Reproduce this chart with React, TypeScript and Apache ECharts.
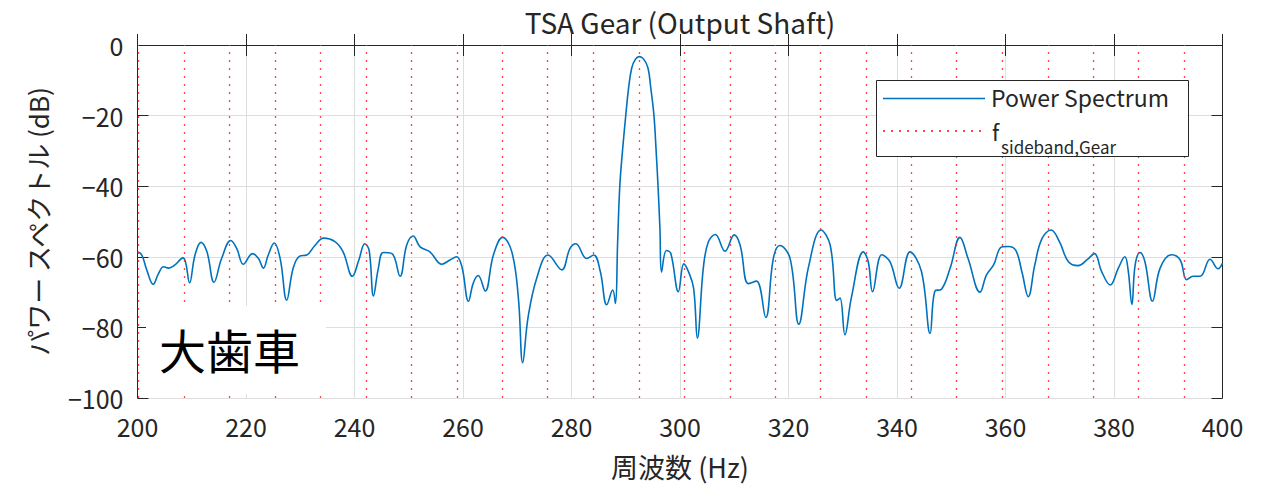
import React, { useEffect, useRef } from "react";
import * as echarts from "echarts";

const FONT = "'Noto Sans CJK JP', 'Noto Sans', sans-serif";

const freqHz = [
  200.0, 200.8, 201.7, 202.9, 203.8, 204.8, 205.7, 206.9, 208.4, 208.9, 209.6, 210.6, 211.7, 212.8, 214.1,
  215.5, 217.2, 218.3, 219.5, 221.2, 222.3, 223.2, 224.1, 225.2, 226.3, 227.5, 228.7, 229.9, 231.2, 232.7,
  234.3, 236.4, 237.9, 239.6, 240.8, 241.9, 242.7, 243.5, 244.4, 245.3, 246.9, 248.4, 249.6, 250.8, 252.1,
  253.9, 256.1, 257.6, 258.8, 259.8, 261.0, 261.9, 262.8, 264.1, 265.6, 267.3, 269.0, 270.2, 271.0, 272.0,
  273.6, 275.7, 278.2, 279.7, 280.8, 282.8, 284.1, 285.3, 286.5, 287.6, 288.1, 288.5, 288.9, 289.4, 290.0,
  290.5, 291.1, 291.8, 292.5, 293.3, 294.1, 294.6, 295.2, 295.6, 295.95, 296.3, 296.6, 297.5, 298.3, 299.7,
  300.7, 301.5, 302.5, 303.2, 304.3, 305.2, 306.5, 308.3, 310.0, 311.1, 312.6, 314.1, 315.8, 317.2, 318.4,
  320.3, 321.9, 323.7, 326.0, 327.7, 328.9, 329.5, 330.4, 331.6, 333.8, 334.7, 335.5, 337.2, 338.7, 340.4,
  342.4, 344.5, 346.1, 347.0, 348.2, 349.8, 351.6, 353.1, 355.3, 356.5, 357.8, 359.3, 360.5, 361.9, 363.0,
  364.2, 365.4, 366.7, 368.4, 370.0, 371.6, 373.4, 375.0, 376.4, 377.7, 379.3, 380.8, 382.0, 382.6, 383.3,
  383.9, 384.8, 385.7, 387.1, 388.5, 390.6, 392.2, 393.4, 394.6, 395.9, 397.7, 399.2, 400.0,
];

const powerDb = [
  -58.6, -59.5, -63.7, -67.8, -65.0, -62.8, -63.2, -62.3, -60.3, -61.8, -67.4, -59.5, -55.9, -58.6, -67.2,
  -60.5, -55.4, -57.7, -62.1, -59.1, -60.5, -63.2, -59.5, -56.1, -60.5, -72.3, -63.2, -59.8, -59.5, -56.8,
  -54.7, -55.7, -58.6, -65.5, -60.9, -56.3, -58.2, -71.1, -63.2, -58.8, -59.1, -65.5, -56.8, -54.1, -57.2,
  -58.6, -62.1, -60.9, -60.0, -62.8, -72.6, -67.4, -65.3, -69.7, -59.5, -54.5, -58.6, -71.5, -90.0, -77.1,
  -66.0, -59.5, -63.7, -57.7, -56.3, -60.5, -59.5, -64.1, -73.6, -69.4, -73.2, -56.0, -40.0, -30.0, -20.0,
  -12.5, -6.5, -4.0, -3.3, -4.0, -6.5, -12.0, -20.0, -30.0, -40.0, -52.0, -64.3, -58.2, -59.0, -69.9,
  -62.0, -64.0, -68.8, -83.0, -63.2, -55.9, -53.7, -58.4, -53.8, -56.8, -67.6, -66.9, -77.2, -60.5, -56.8,
  -60.5, -79.1, -62.8, -52.4, -56.8, -72.4, -71.7, -82.1, -71.5, -58.6, -61.4, -69.9, -59.4, -61.4, -68.9,
  -58.6, -64.1, -81.7, -69.7, -69.2, -63.2, -54.5, -60.5, -70.0, -65.1, -62.3, -57.2, -57.1, -58.2, -64.1,
  -71.3, -62.3, -54.9, -52.4, -55.9, -61.4, -62.5, -60.9, -59.1, -64.1, -68.0, -63.2, -60.0, -63.7, -73.5,
  -62.3, -58.8, -61.4, -72.6, -63.2, -59.4, -60.9, -66.5, -65.5, -65.5, -60.7, -63.4, -61.8,
];

const sidebandHz = [
  200.2, 208.6, 217.0, 225.4, 233.7, 242.1, 250.5, 258.9, 267.3, 275.6, 284.0, 292.4,
  300.8, 309.2, 317.5, 325.9, 334.3, 342.7, 351.0, 359.4, 367.8, 376.2, 384.5, 392.9,
];

const TEXT = "#262626";
const GRID = "#dedede";
const BLUE = "#0072BD";
const RED = "#ff3030";

export default function App() {
  const ref = useRef<HTMLDivElement>(null);
  useEffect(() => {
    document.body.style.margin = "0";
    const chart = echarts.init(ref.current!, null, { renderer: "svg" });
    const axisLine = { show: true, lineStyle: { color: TEXT, width: 1 } };
    const tick = { show: true, inside: true, length: 11, lineStyle: { color: TEXT, width: 1 } };
    const option: any = {
      animation: false,
      backgroundColor: "#ffffff",
      textStyle: { fontFamily: FONT },
      title: {
        text: "TSA Gear (Output Shaft)",
        left: 680,
        textAlign: "center",
        top: 8,
        padding: 0,
        textStyle: { fontSize: 28, fontWeight: "normal", color: TEXT, fontFamily: FONT },
      },
      grid: { left: 137.5, right: 38.5, top: 45, bottom: 82, show: false },
      xAxis: [
        {
          type: "value", min: 200, max: 400, interval: 20, position: "bottom",
          axisLine, axisTick: tick,
          axisLabel: { fontSize: 25, color: TEXT, margin: 15, fontFamily: FONT },
          splitLine: { show: true, lineStyle: { color: GRID, width: 1 } },
          name: "周波数 (Hz)", nameLocation: "middle", nameGap: 55,
          nameTextStyle: { fontSize: 27, color: TEXT, fontFamily: FONT },
        },
        {
          type: "value", min: 200, max: 400, interval: 20, position: "top",
          axisLine, axisTick: tick, axisLabel: { show: false }, splitLine: { show: false },
        },
      ],
      yAxis: [
        {
          type: "value", min: -100, max: 0, interval: 20, position: "left",
          axisLine, axisTick: tick,
          axisLabel: {
            fontSize: 25, color: TEXT, margin: 14, fontFamily: FONT,
            formatter: (v: number) => (v < 0 ? "\u2212" + Math.abs(v) : String(v)),
          },
          splitLine: { show: true, lineStyle: { color: GRID, width: 1 } },
          name: "パワー スペクトル (dB)", nameLocation: "middle", nameGap: 87,
          nameTextStyle: { fontSize: 26, color: TEXT, fontFamily: FONT },
        },
        {
          type: "value", min: -100, max: 0, interval: 20, position: "right",
          axisLine, axisTick: tick, axisLabel: { show: false }, splitLine: { show: false },
        },
      ],
      series: [
        {
          type: "line",
          name: "Power Spectrum",
          xAxisIndex: 0,
          yAxisIndex: 0,
          data: freqHz.map((f, i) => [f, powerDb[i]]),
          showSymbol: false,
          smooth: 0.4,
          lineStyle: { color: BLUE, width: 1.6 },
          emphasis: { disabled: true },
          z: 3,
          markLine: {
            silent: true,
            symbol: ["none", "none"],
            label: { show: false },
            emphasis: { disabled: true },
            lineStyle: { color: RED, type: [2, 6], width: 1.3, opacity: 0.9 },
            data: sidebandHz.map((v) => ({ xAxis: v })),
          },
        },
      ],
      graphic: [
        { type: "rect", z: 100, shape: { x: 146, y: 306, width: 180, height: 88 }, style: { fill: "#ffffff" } },
        {
          type: "text", z: 101, x: 159, y: 348,
          style: { text: "大歯車", fontSize: 47, fill: "#000000", fontFamily: FONT, verticalAlign: "middle" },
        },
        {
          type: "rect", z: 100, shape: { x: 876.5, y: 80.5, width: 312, height: 76 },
          style: { fill: "#ffffff", stroke: TEXT, lineWidth: 1 },
        },
        {
          type: "line", z: 101, shape: { x1: 883, y1: 98.5, x2: 985, y2: 98.5 },
          style: { stroke: BLUE, lineWidth: 1.6 },
        },
        {
          type: "text", z: 101, x: 991, y: 97,
          style: { text: "Power Spectrum", fontSize: 23, fill: TEXT, fontFamily: FONT, verticalAlign: "middle" },
        },
        {
          type: "line", z: 101, shape: { x1: 883, y1: 131, x2: 983, y2: 131 },
          style: { stroke: RED, lineWidth: 2, lineDash: [2, 6], opacity: 0.9 },
        },
        {
          type: "text", z: 101, x: 992, y: 131,
          style: { text: "f", fontSize: 22, fill: TEXT, fontFamily: FONT, verticalAlign: "middle" },
        },
        {
          type: "text", z: 101, x: 1001, y: 146,
          style: { text: "sideband,Gear", fontSize: 17, fill: TEXT, fontFamily: FONT, verticalAlign: "middle" },
        },
      ],
    };
    chart.setOption(option);
    return () => chart.dispose();
  }, []);
  return <div ref={ref} style={{ width: 1261, height: 485 }} />;
}
